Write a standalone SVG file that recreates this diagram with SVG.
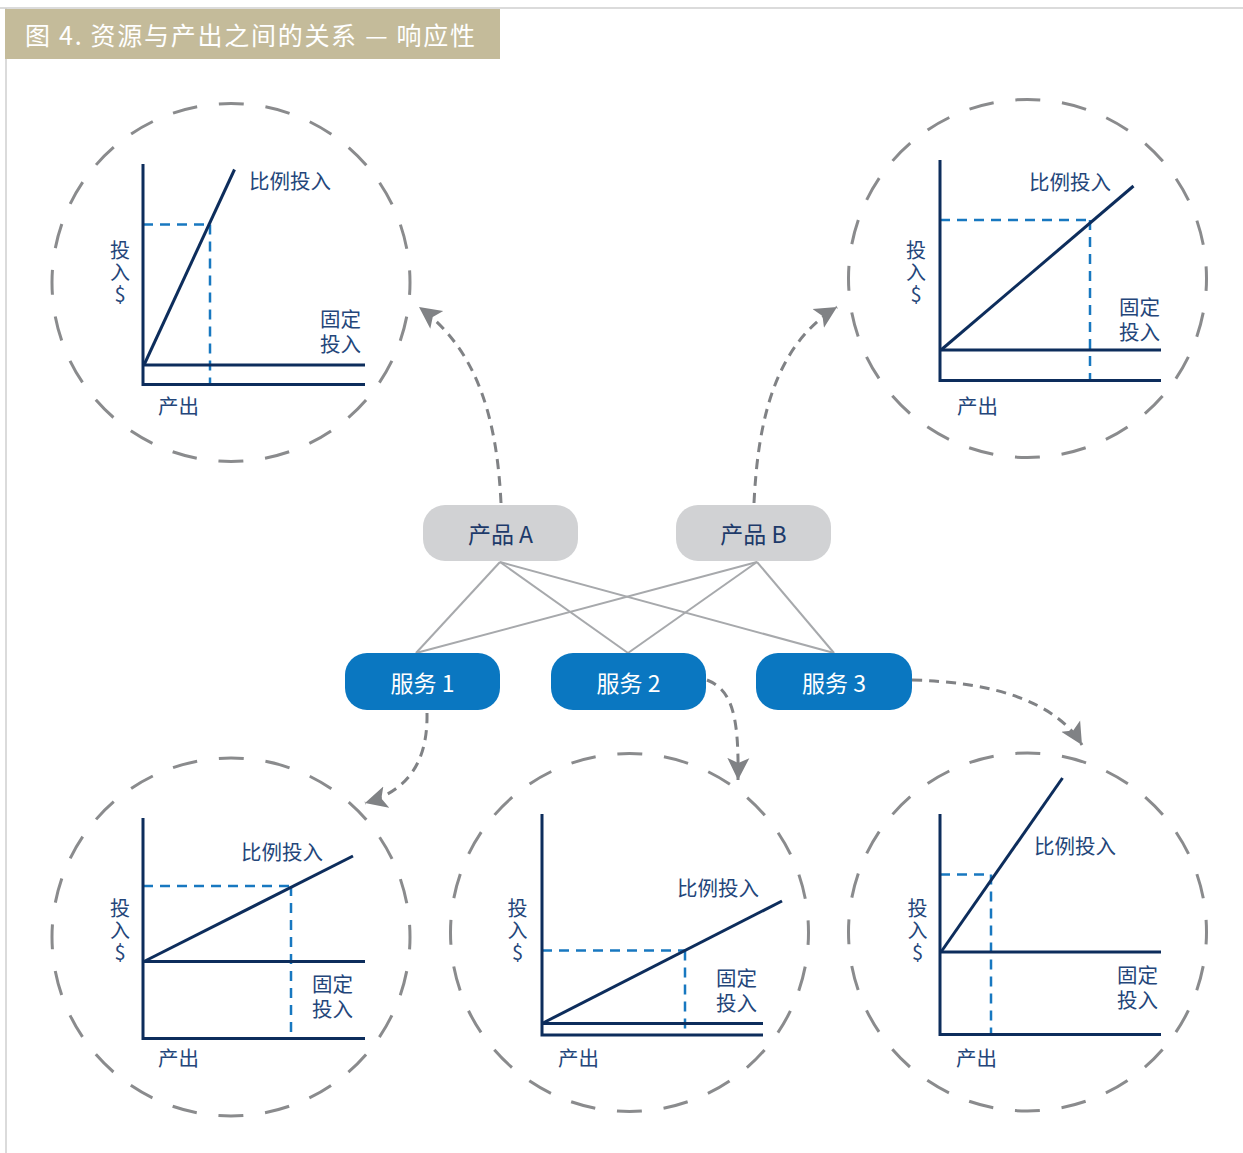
<svg xmlns="http://www.w3.org/2000/svg" width="1243" height="1153" viewBox="0 0 1243 1153">
  <defs>
    <style>
      text { font-family: "Noto Sans CJK SC", "Noto Sans", sans-serif; }
      .ring { fill: none; stroke: #8a8b8d; stroke-width: 3; stroke-dasharray: 25 21.86; stroke-dashoffset: 12.5; }
      .axis { fill: none; stroke: #0d2d5c; stroke-width: 3; }
      .guide { fill: none; stroke: #1878c0; stroke-width: 2.5; stroke-dasharray: 10 7; }
      .lbl { fill: #24467a; font-family: "Liberation Sans", "Noto Sans CJK SC", sans-serif; font-size: 20.5px; dominant-baseline: central; }
      .vlbl { fill: #24467a; font-size: 20px; writing-mode: vertical-rl; text-orientation: upright; letter-spacing: 2px; }
      .link { stroke: #a7a9ac; stroke-width: 2; fill: none; }
      .flow { stroke: #808285; stroke-width: 3; fill: none; stroke-dasharray: 10 7; marker-end: url(#head); }
      .prod rect { fill: #d1d2d4; }
      .prod text { fill: #1d3a6a; font-size: 23px; text-anchor: middle; dominant-baseline: central; }
      .svc rect { fill: #0a77c1; }
      .svc text { fill: #ffffff; font-size: 23px; text-anchor: middle; dominant-baseline: central; }
    </style>
    <marker id="head" markerUnits="userSpaceOnUse" viewBox="0 0 24 24" markerWidth="24" markerHeight="24" refX="22" refY="12" orient="auto">
      <path d="M0,1 L22,12 L0,23 L5,12 z" fill="#808285"/>
    </marker>
  </defs>

  <!-- page frame and title band -->
  <g id="frame">
    <line x1="0" y1="8" x2="1243" y2="8" stroke="#cfcfcf" stroke-width="1.5"/>
    <line x1="6" y1="8" x2="6" y2="1153" stroke="#cfcfcf" stroke-width="1.5"/>
    <rect x="5" y="9" width="495" height="50" fill="#c4bb9a"/>
    <text x="25" y="34" fill="#ffffff" font-size="25" dominant-baseline="central" textLength="450" lengthAdjust="spacing">图 4. 资源与产出之间的关系 — 响应性</text>
  </g>

  <!-- connectors -->
  <g id="connectors">
    <line class="link" x1="500" y1="562" x2="416" y2="653"/>
    <line class="link" x1="500" y1="562" x2="628" y2="653"/>
    <line class="link" x1="500" y1="562" x2="834" y2="653"/>
    <line class="link" x1="757" y1="562" x2="416" y2="653"/>
    <line class="link" x1="757" y1="562" x2="628" y2="653"/>
    <line class="link" x1="757" y1="562" x2="834" y2="653"/>
    <path class="flow" d="M501,503 C497,420 478,350 419,307"/>
    <path class="flow" d="M754,503 C758,420 775,345 837,307"/>
    <path class="flow" d="M427,713 C428,765 405,792 365,803"/>
    <path class="flow" d="M707,680 C732,690 739,715 738,780"/>
    <path class="flow" d="M912,680 C990,682 1055,700 1082,745"/>
  </g>

  <!-- products -->
  <g id="product-a" class="prod">
    <rect x="423" y="505" width="155" height="56" rx="22"/>
    <text x="500.5" y="533">产品 A</text>
  </g>
  <g id="product-b" class="prod">
    <rect x="676" y="505" width="155" height="56" rx="22"/>
    <text x="753.5" y="533">产品 B</text>
  </g>

  <!-- services -->
  <g id="service-1" class="svc">
    <rect x="345" y="653" width="155" height="57" rx="22"/>
    <text x="422.5" y="682">服务 1</text>
  </g>
  <g id="service-2" class="svc">
    <rect x="551" y="653" width="155" height="57" rx="22"/>
    <text x="628.5" y="682">服务 2</text>
  </g>
  <g id="service-3" class="svc">
    <rect x="756" y="653" width="156" height="57" rx="22"/>
    <text x="834" y="682">服务 3</text>
  </g>

  <!-- chart: product A, steep proportional input -->
  <g id="chart-product-a">
    <circle class="ring" cx="231" cy="282.5" r="179"/>
    <line class="guide" x1="143" y1="224.5" x2="210" y2="224.5"/>
    <line class="guide" x1="210" y1="224.5" x2="210" y2="384"/>
    <path class="axis" d="M143,164 V384.5 H365"/>
    <line class="axis" x1="143" y1="365" x2="365" y2="365"/>
    <line class="axis" x1="144" y1="365" x2="234.5" y2="169.5"/>
    <text class="lbl" x="249" y="181.5">比例投入</text>
    <text class="vlbl" x="120" y="240">投入$</text>
    <text class="lbl" x="320" y="319"><tspan x="320">固定</tspan><tspan x="320" dy="25">投入</tspan></text>
    <text class="lbl" x="158" y="406.5">产出</text>
  </g>

  <!-- chart: product B, moderate proportional input -->
  <g id="chart-product-b">
    <circle class="ring" cx="1027.5" cy="278.5" r="179"/>
    <line class="guide" x1="940" y1="220" x2="1090" y2="220"/>
    <line class="guide" x1="1090" y1="220" x2="1090" y2="380"/>
    <path class="axis" d="M940,160 V380.5 H1161"/>
    <line class="axis" x1="940" y1="350" x2="1161" y2="350"/>
    <line class="axis" x1="941" y1="350" x2="1133.5" y2="186"/>
    <text class="lbl" x="1029" y="182.5">比例投入</text>
    <text class="vlbl" x="916" y="240">投入$</text>
    <text class="lbl" x="1119" y="306.5"><tspan x="1119">固定</tspan><tspan x="1119" dy="25">投入</tspan></text>
    <text class="lbl" x="957" y="406.5">产出</text>
  </g>

  <!-- chart: service 1, high fixed input -->
  <g id="chart-service-1">
    <circle class="ring" cx="231" cy="937" r="179"/>
    <line class="guide" x1="143" y1="886" x2="291" y2="886"/>
    <line class="guide" x1="291" y1="886" x2="291" y2="1038"/>
    <path class="axis" d="M143,818 V1038.5 H365"/>
    <line class="axis" x1="143" y1="961.5" x2="365" y2="961.5"/>
    <line class="axis" x1="144" y1="961.5" x2="353" y2="856"/>
    <text class="lbl" x="241" y="852.5">比例投入</text>
    <text class="vlbl" x="120" y="898">投入$</text>
    <text class="lbl" x="312" y="983.5"><tspan x="312">固定</tspan><tspan x="312" dy="25">投入</tspan></text>
    <text class="lbl" x="158" y="1058.5">产出</text>
  </g>

  <!-- chart: service 2, low fixed input -->
  <g id="chart-service-2">
    <circle class="ring" cx="629.5" cy="932.5" r="179"/>
    <line class="guide" x1="542" y1="950.5" x2="685" y2="950.5"/>
    <line class="guide" x1="685" y1="950.5" x2="685" y2="1035"/>
    <path class="axis" d="M542,814 V1035 H763"/>
    <line class="axis" x1="542" y1="1023.5" x2="763" y2="1023.5"/>
    <line class="axis" x1="543" y1="1023" x2="782" y2="901"/>
    <text class="lbl" x="677" y="888.5">比例投入</text>
    <text class="vlbl" x="517.5" y="898">投入$</text>
    <text class="lbl" x="716" y="977.5"><tspan x="716">固定</tspan><tspan x="716" dy="25">投入</tspan></text>
    <text class="lbl" x="558" y="1058">产出</text>
  </g>

  <!-- chart: service 3, high fixed and steep proportional input -->
  <g id="chart-service-3">
    <circle class="ring" cx="1027.5" cy="932" r="179"/>
    <line class="guide" x1="940" y1="874.5" x2="991" y2="874.5"/>
    <line class="guide" x1="991" y1="874.5" x2="991" y2="1034"/>
    <path class="axis" d="M940,814 V1034.5 H1161"/>
    <line class="axis" x1="940" y1="952" x2="1161" y2="952"/>
    <line class="axis" x1="941" y1="952" x2="1062.5" y2="778"/>
    <text class="lbl" x="1034" y="846.5">比例投入</text>
    <text class="vlbl" x="917.5" y="898">投入$</text>
    <text class="lbl" x="1117" y="975"><tspan x="1117">固定</tspan><tspan x="1117" dy="25">投入</tspan></text>
    <text class="lbl" x="956" y="1058.5">产出</text>
  </g>
</svg>
